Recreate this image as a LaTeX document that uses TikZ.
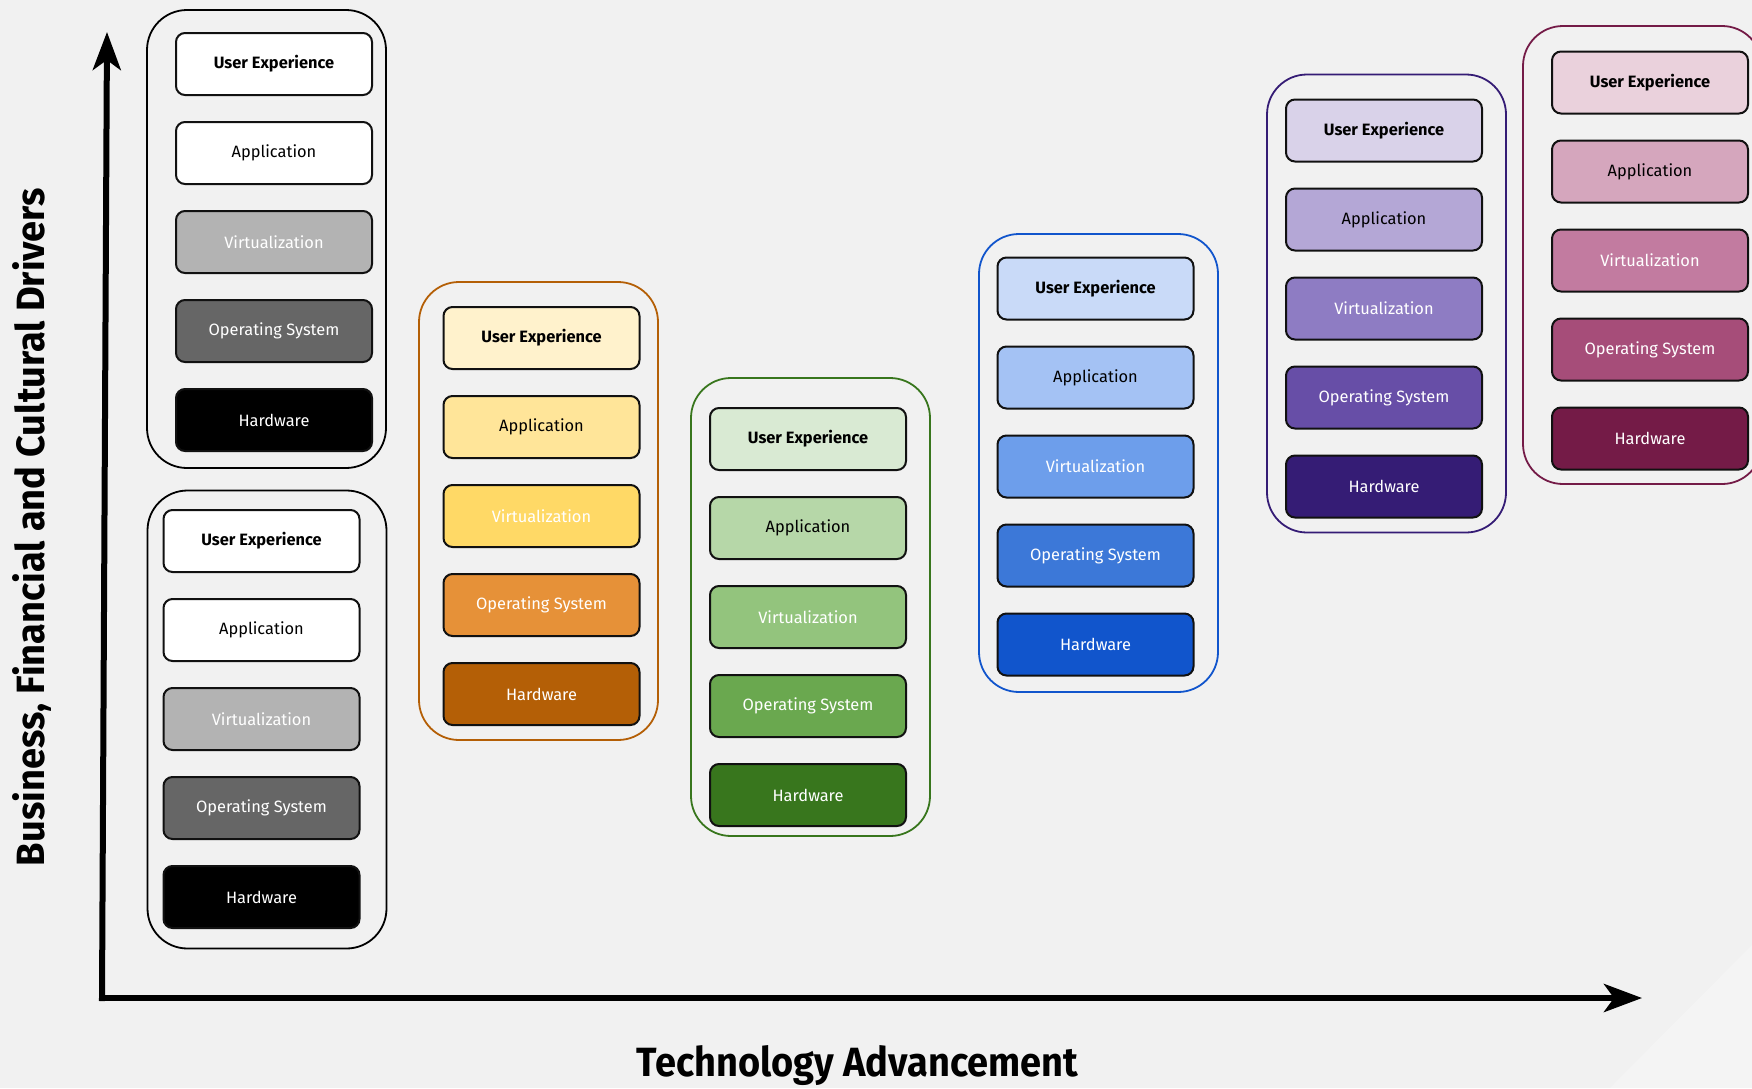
\documentclass[tikz,border=0pt]{standalone}
\usepackage{fontspec}
\setmainfont{Fira Sans}
\usetikzlibrary{arrows.meta}
\definecolor{bg}{HTML}{F1F1F1}
\definecolor{edge}{HTML}{111111}
% grey
\definecolor{gra}{HTML}{FFFFFF}\definecolor{grb}{HTML}{FFFFFF}\definecolor{grc}{HTML}{B3B3B3}\definecolor{grd}{HTML}{666666}\definecolor{gre}{HTML}{000000}
% orange
\definecolor{ora}{HTML}{FFF2CC}\definecolor{orb}{HTML}{FFE599}\definecolor{orc}{HTML}{FFD966}\definecolor{ord}{HTML}{E69138}\definecolor{ore}{HTML}{B45F06}
% green
\definecolor{gna}{HTML}{D9EAD3}\definecolor{gnb}{HTML}{B6D7A8}\definecolor{gnc}{HTML}{93C47D}\definecolor{gnd}{HTML}{6AA84F}\definecolor{gne}{HTML}{38761D}
% blue
\definecolor{bla}{HTML}{C9DAF8}\definecolor{blb}{HTML}{A4C2F4}\definecolor{blc}{HTML}{6D9EEB}\definecolor{bld}{HTML}{3C78D8}\definecolor{ble}{HTML}{1155CC}
% purple
\definecolor{pua}{HTML}{D9D2E9}\definecolor{pub}{HTML}{B4A7D6}\definecolor{puc}{HTML}{8E7CC3}\definecolor{pud}{HTML}{674EA7}\definecolor{pue}{HTML}{351C75}
% pink
\definecolor{pka}{HTML}{EAD1DC}\definecolor{pkb}{HTML}{D5A6BD}\definecolor{pkc}{HTML}{C27BA0}\definecolor{pkd}{HTML}{A64D79}\definecolor{pke}{HTML}{741B47}
\tikzset{
  layer/.style={draw=edge, line width=1pt, rounded corners=4.5pt, minimum width=98pt,
    minimum height=31pt, inner sep=0pt, font=\fontsize{8.2}{10}\selectfont},
  uxbox/.style={layer, font=\fontsize{8.2}{10}\selectfont\bfseries, text=black},
  stackbox/.style={line width=0.9pt, rounded corners=20pt, minimum width=119.5pt,
    minimum height=229pt, inner sep=0pt},
  axis/.style={line width=3pt, line cap=rect, -{Stealth[length=19pt,width=14pt,inset=5pt]}},
}
\newcommand\layerstack[4]{%
  \node[uxbox, fill=#4a] (#1ux) at (#2,#3) {User Experience};
  \node[layer, fill=#4b, text=black] (#1app) at (#2,#3+89) {Application};
  \node[layer, fill=#4c, text=white] (#1virt) at (#2,#3+178) {Virtualization};
  \node[layer, fill=#4d, text=white] (#1os) at (#2,#3+267) {Operating System};
  \node[layer, fill=#4e, text=white] (#1hw) at (#2,#3+356) {Hardware};
}
\begin{document}
\begin{tikzpicture}[x=0.5pt,y=-0.5pt]
\fill[bg] (0,0) rectangle (1752,1088);
\useasboundingbox (0,0) rectangle (1752,1088);
\fill[white, opacity=0.25] (1610,1088) -- (1752,945) -- (1752,1088) -- cycle;
% containers
\node[stackbox, draw=black] (c1) at (266.5,239) {};
\node[stackbox, draw=black] (c2) at (267,719.5) {};
\node[stackbox, draw=ore] (c3) at (538.5,511) {};
\node[stackbox, draw=gne] (c4) at (810.5,607) {};
\node[stackbox, draw=ble] (c5) at (1098.5,463) {};
\node[stackbox, draw=pue] (c6) at (1386.5,303.5) {};
\node[stackbox, draw=pke] (c7) at (1642.5,255) {};
% layer stacks
\layerstack{a}{274}{64}{gr}
\layerstack{b}{261.5}{541}{gr}
\layerstack{c}{541.5}{338}{or}
\layerstack{d}{808}{439}{gn}
\layerstack{e}{1095.5}{288.5}{bl}
\layerstack{f}{1384}{130.5}{pu}
\layerstack{g}{1650}{82.5}{pk}
% axes
\coordinate (o) at (102,998);
\coordinate (ytip) at (107,32);
\coordinate (xtip) at (1642,998);
\draw[axis] (o) -- (ytip);
\draw[axis] (o) -- (xtip);
\node[anchor=base, inner sep=0pt] (xlabel) at (857.5,1076)
  {\resizebox{220.5pt}{15.5pt}{\bfseries Technology Advancement}};
\node[anchor=base, rotate=90, inner sep=0pt] (ylabel) at (45,527)
  {\resizebox{339pt}{16pt}{\bfseries Business, Financial and Cultural Drivers}};
\end{tikzpicture}
\end{document}
